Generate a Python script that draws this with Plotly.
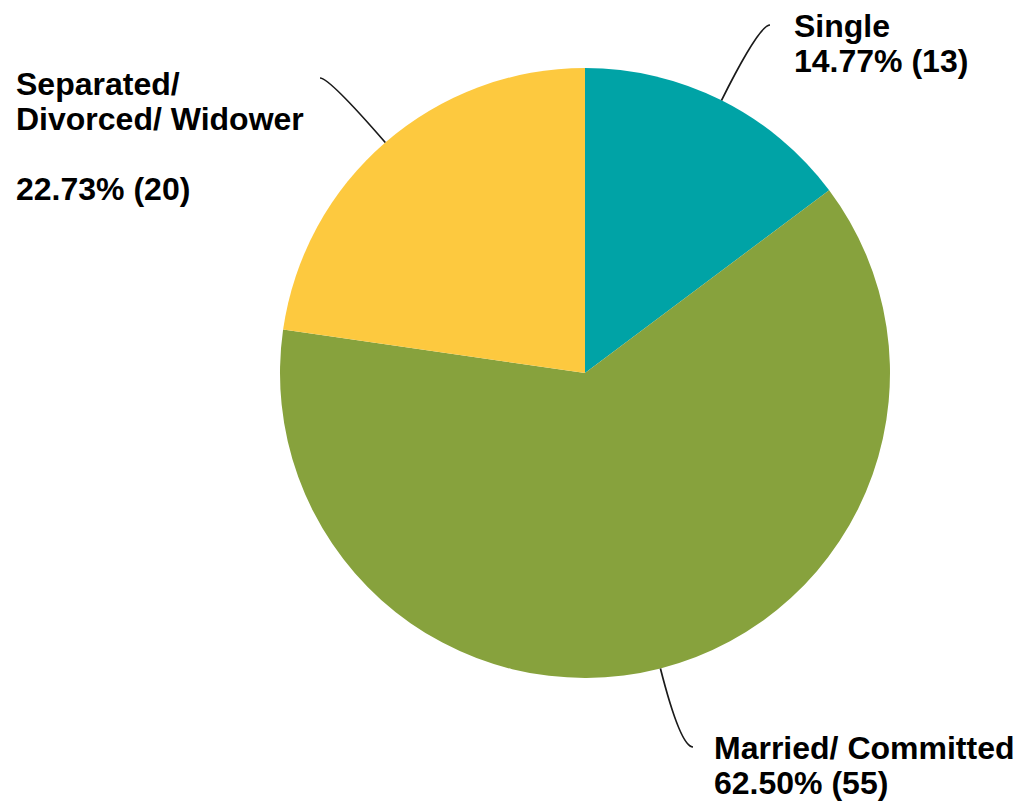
import math
import plotly.graph_objects as go

# Marital status breakdown
categories = ["Single", "Married/ Committed", "Separated/ Divorced/ Widower"]
counts = [13, 55, 20]
colors = ["#00A3A6", "#87A23D", "#FDC93F"]

W, H = 1023, 802
CX, CY, R = 585, 373, 305  # pie centre and radius in pixels

total = sum(counts)
pcts = [c / total * 100 for c in counts]


def px(x, y):
    """Pixel coordinates -> paper coordinates."""
    return x / W, 1 - y / H


fig = go.Figure(
    go.Pie(
        labels=categories,
        values=counts,
        sort=False,
        direction="clockwise",
        rotation=0,
        marker=dict(colors=colors, line=dict(width=0)),
        textinfo="none",
        hoverinfo="label+value+percent",
        domain=dict(x=[(CX - R) / W, (CX + R) / W],
                    y=[1 - (CY + R) / H, 1 - (CY - R) / H]),
        showlegend=False,
    )
)

# label text lines: (left x, vertical middle of each line) in pixels
label_lines = [
    [categories[0], f"{pcts[0]:.2f}% ({counts[0]})"],
    [categories[1], f"{pcts[1]:.2f}% ({counts[1]})"],
    ["Separated/", "Divorced/ Widower", "", f"{pcts[2]:.2f}% ({counts[2]})"],
]
label_x = [792, 712, 14]
label_top = [26, 748, 84]
line_gap = 35
# leader line end points (pixels)
leader_end = [(770, 25), (693, 747), (320, 78)]

font = dict(family="Liberation Sans, Arial, sans-serif", size=32, color="#000000")

annotations = []
shapes = []
cum = 0.0
for i, cnt in enumerate(counts):
    mid = (cum + cnt / 2) / total * 2 * math.pi  # clockwise from 12 o'clock
    cum += cnt
    dx, dy = math.sin(mid), -math.cos(mid)
    sx, sy = CX + R * dx, CY + R * dy
    ex, ey = leader_end[i]
    # control point: radial line meets the horizontal through the end point
    t = (ey - sy) / dy
    qx, qy = sx + dx * t, ey
    p0, p1, p2 = px(sx, sy), px(qx, qy), px(ex, ey)
    shapes.append(dict(
        type="path", xref="paper", yref="paper",
        path=f"M {p0[0]:.5f} {p0[1]:.5f} Q {p1[0]:.5f} {p1[1]:.5f} {p2[0]:.5f} {p2[1]:.5f}",
        line=dict(color="#1a1a1a", width=1.7),
    ))
    for j, txt in enumerate(label_lines[i]):
        if not txt:
            continue
        ax, ay = px(label_x[i], label_top[i] + j * line_gap)
        annotations.append(dict(
            x=ax, y=ay, xref="paper", yref="paper",
            text=f"<b>{txt}</b>", showarrow=False,
            xanchor="left", yanchor="middle", font=font,
        ))

fig.update_layout(
    width=W, height=H,
    margin=dict(l=0, r=0, t=0, b=0),
    paper_bgcolor="white",
    plot_bgcolor="white",
    annotations=annotations,
    shapes=shapes,
)

fig.write_html("out.html")
